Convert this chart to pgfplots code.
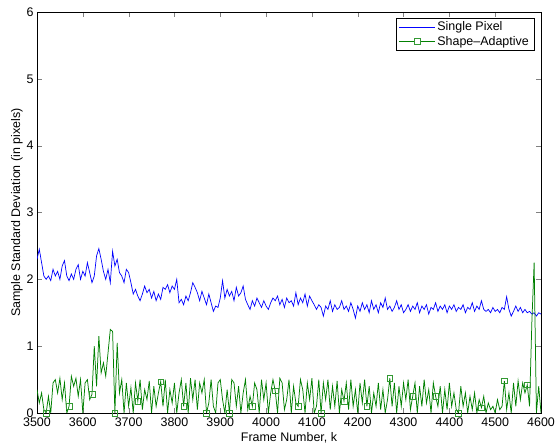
\documentclass[border=0pt]{standalone}
\usepackage{pgfplots}
\pgfplotsset{compat=1.18}
\usepackage{fontspec}
\setmainfont{Liberation Sans}
\definecolor{mblue}{RGB}{0,0,255}
\definecolor{mgreen}{RGB}{0,128,0}
\begin{document}
\begin{tikzpicture}
\useasboundingbox (-37bp,-30bp) rectangle (519bp,413bp);
\begin{axis}[
  scale only axis, width=504bp, height=401bp,
  xmin=3500, xmax=4600, ymin=0, ymax=6,
  xtick={3500,3600,...,4600}, ytick={0,1,...,6},
  /pgf/number format/assume math mode=true,
  /pgf/number format/1000 sep={},
  tick label style={font=\fontsize{12.5}{14}\selectfont},
  xticklabel style={yshift=-1bp},
  label style={font=\fontsize{12.5}{14}\selectfont},
  xlabel={Frame Number, k},
  ylabel={Sample Standard Deviation (in pixels)},
  xlabel style={yshift=1bp},
  ylabel style={yshift=-3bp},
  major tick length=5bp,
  axis line style={line width=0.6pt},
  legend cell align=left,
  legend style={at={(1,1)}, anchor=north east, xshift=-7bp, yshift=-6bp,
    font=\fontsize{12.5}{14}\selectfont,
    inner xsep=3bp, inner ysep=1.5bp, row sep=0bp},
]
\addplot[color=mblue, line width=0.7pt, mark=none,
  legend image code/.code={\fill[fill=mblue!99!white, draw=none] (0bp,-0.4bp) rectangle (36bp,0.4bp);}] coordinates {
(3500,2.30)(3505,2.45)(3510,2.25)(3515,2.05)(3520,2.00)(3525,2.05)(3530,1.98)(3535,2.15)(3540,2.05)(3545,2.12)
(3550,2.00)(3555,2.20)(3560,2.28)(3565,2.05)(3570,1.98)(3575,2.08)(3580,2.00)(3585,2.15)(3590,2.22)(3595,2.00)
(3600,2.12)(3605,2.05)(3610,2.25)(3615,2.10)(3620,1.95)(3625,2.05)(3630,2.35)(3635,2.46)(3640,2.30)(3645,2.12)
(3650,2.00)(3655,2.15)(3660,1.95)(3665,2.42)(3670,2.20)(3675,2.30)(3680,2.10)(3685,2.05)(3690,1.95)(3695,2.15)
(3700,2.10)(3705,1.95)(3710,1.78)(3715,1.85)(3720,1.75)(3725,1.68)(3730,1.78)(3735,1.90)(3740,1.80)(3745,1.85)
(3750,1.72)(3755,1.82)(3760,1.68)(3765,1.78)(3770,1.70)(3775,1.88)(3780,1.85)(3785,1.92)(3790,1.80)(3795,1.90)
(3800,1.85)(3805,2.00)(3810,1.65)(3815,1.70)(3820,1.62)(3825,1.75)(3830,1.68)(3835,1.80)(3840,1.95)(3845,1.88)
(3850,1.80)(3855,1.68)(3860,1.82)(3865,1.72)(3870,1.62)(3875,1.78)(3880,1.65)(3885,1.52)(3890,1.60)(3895,1.58)
(3900,1.72)(3905,1.98)(3910,1.72)(3915,1.85)(3920,1.75)(3925,1.82)(3930,1.68)(3935,1.88)(3940,1.75)(3945,1.80)
(3950,1.90)(3955,1.70)(3960,1.62)(3965,1.55)(3970,1.68)(3975,1.60)(3980,1.72)(3985,1.65)(3990,1.58)(3995,1.68)
(4000,1.60)(4005,1.55)(4010,1.65)(4015,1.72)(4020,1.68)(4025,1.75)(4030,1.62)(4035,1.70)(4040,1.58)(4045,1.72)
(4050,1.65)(4055,1.68)(4060,1.60)(4065,1.80)(4070,1.62)(4075,1.72)(4080,1.65)(4085,1.78)(4090,1.60)(4095,1.75)
(4100,1.68)(4105,1.62)(4110,1.55)(4115,1.62)(4120,1.58)(4125,1.45)(4130,1.60)(4135,1.55)(4140,1.68)(4145,1.52)
(4150,1.62)(4155,1.55)(4160,1.58)(4165,1.68)(4170,1.55)(4175,1.60)(4180,1.52)(4185,1.65)(4190,1.55)(4195,1.42)
(4200,1.60)(4205,1.52)(4210,1.65)(4215,1.55)(4220,1.62)(4225,1.50)(4230,1.68)(4235,1.55)(4240,1.62)(4245,1.50)
(4250,1.65)(4255,1.58)(4260,1.72)(4265,1.55)(4270,1.60)(4275,1.52)(4280,1.58)(4285,1.68)(4290,1.55)(4295,1.62)
(4300,1.50)(4305,1.55)(4310,1.62)(4315,1.52)(4320,1.60)(4325,1.55)(4330,1.65)(4335,1.50)(4340,1.60)(4345,1.55)
(4350,1.62)(4355,1.48)(4360,1.58)(4365,1.55)(4370,1.65)(4375,1.52)(4380,1.60)(4385,1.55)(4390,1.62)(4395,1.50)
(4400,1.60)(4405,1.55)(4410,1.62)(4415,1.52)(4420,1.58)(4425,1.55)(4430,1.62)(4435,1.50)(4440,1.58)(4445,1.55)
(4450,1.65)(4455,1.52)(4460,1.60)(4465,1.55)(4470,1.68)(4475,1.55)(4480,1.52)(4485,1.55)(4490,1.50)(4495,1.58)
(4500,1.52)(4505,1.55)(4510,1.50)(4515,1.58)(4520,1.55)(4525,1.74)(4530,1.55)(4535,1.45)(4540,1.52)(4545,1.60)
(4550,1.52)(4555,1.58)(4560,1.50)(4565,1.55)(4570,1.50)(4575,1.52)(4580,1.48)(4585,1.50)(4590,1.45)(4595,1.50)
(4600,1.48)
};
\addlegendentry{Single Pixel}
\addplot[color=mgreen, line width=0.75pt, mark=square, mark size=2.8bp, mark repeat=10, mark phase=5, mark options={solid, line width=0.5pt, draw=mgreen!80!white},
  legend image code/.code={\fill[fill=mgreen!99!white, draw=none] (0bp,-0.4bp) rectangle (36bp,0.4bp);\draw[draw=mgreen!80!white, fill=white, line width=0.5pt] (15.2bp,-2.8bp) rectangle (20.8bp,2.8bp);}] coordinates {
(3500,0.35)(3505,0.15)(3510,0.30)(3515,0.05)(3520,0.00)(3525,0.25)(3530,0.00)(3535,0.45)(3540,0.50)(3545,0.30)
(3550,0.52)(3555,0.20)(3560,0.45)(3565,0.00)(3570,0.10)(3575,0.55)(3580,0.40)(3585,0.52)(3590,0.25)(3595,0.50)
(3600,0.00)(3605,0.45)(3610,0.50)(3615,0.20)(3620,0.28)(3625,1.00)(3630,0.40)(3635,1.15)(3640,0.60)(3645,0.75)
(3650,0.55)(3655,0.90)(3660,1.25)(3665,1.22)(3670,0.00)(3675,1.05)(3680,0.30)(3685,0.50)(3690,0.00)(3695,0.45)
(3700,0.10)(3705,0.38)(3710,0.00)(3715,0.45)(3720,0.18)(3725,0.50)(3730,0.05)(3735,0.35)(3740,0.20)(3745,0.48)
(3750,0.00)(3755,0.40)(3760,0.10)(3765,0.30)(3770,0.47)(3775,0.10)(3780,0.50)(3785,0.00)(3790,0.35)(3795,0.15)
(3800,0.45)(3805,0.00)(3810,0.30)(3815,0.50)(3820,0.10)(3825,0.45)(3830,0.00)(3835,0.52)(3840,0.20)(3845,0.50)
(3850,0.05)(3855,0.45)(3860,0.30)(3865,0.50)(3870,0.00)(3875,0.15)(3880,0.50)(3885,0.10)(3890,0.00)(3895,0.45)
(3900,0.50)(3905,0.20)(3910,0.00)(3915,0.35)(3920,0.00)(3925,0.50)(3930,0.45)(3935,0.10)(3940,0.40)(3945,0.00)
(3950,0.30)(3955,0.50)(3960,0.05)(3965,0.25)(3970,0.10)(3975,0.45)(3980,0.35)(3985,0.00)(3990,0.50)(3995,0.20)
(4000,0.45)(4005,0.00)(4010,0.30)(4015,0.50)(4020,0.33)(4025,0.00)(4030,0.52)(4035,0.45)(4040,0.05)(4045,0.20)
(4050,0.50)(4055,0.00)(4060,0.40)(4065,0.15)(4070,0.10)(4075,0.50)(4080,0.35)(4085,0.00)(4090,0.45)(4095,0.20)
(4100,0.52)(4105,0.00)(4110,0.10)(4115,0.50)(4120,0.00)(4125,0.45)(4130,0.20)(4135,0.50)(4140,0.05)(4145,0.40)
(4150,0.10)(4155,0.48)(4160,0.00)(4165,0.35)(4170,0.18)(4175,0.45)(4180,0.05)(4185,0.50)(4190,0.10)(4195,0.35)
(4200,0.00)(4205,0.45)(4210,0.15)(4215,0.50)(4220,0.10)(4225,0.40)(4230,0.00)(4235,0.30)(4240,0.10)(4245,0.45)
(4250,0.05)(4255,0.35)(4260,0.00)(4265,0.20)(4270,0.52)(4275,0.10)(4280,0.45)(4285,0.00)(4290,0.40)(4295,0.10)
(4300,0.45)(4305,0.20)(4310,0.50)(4315,0.05)(4320,0.25)(4325,0.45)(4330,0.00)(4335,0.40)(4340,0.10)(4345,0.50)
(4350,0.15)(4355,0.35)(4360,0.00)(4365,0.45)(4370,0.25)(4375,0.10)(4380,0.40)(4385,0.00)(4390,0.35)(4395,0.05)
(4400,0.45)(4405,0.10)(4410,0.30)(4415,0.05)(4420,0.00)(4425,0.40)(4430,0.10)(4435,0.30)(4440,0.00)(4445,0.25)
(4450,0.05)(4455,0.30)(4460,0.00)(4465,0.20)(4470,0.08)(4475,0.25)(4480,0.00)(4485,0.15)(4490,0.05)(4495,0.10)
(4500,0.00)(4505,0.20)(4510,0.05)(4515,0.10)(4520,0.48)(4525,0.05)(4530,0.30)(4535,0.00)(4540,0.45)(4545,0.10)
(4550,0.48)(4555,0.20)(4560,0.45)(4565,0.30)(4570,0.42)(4575,0.10)(4580,1.35)(4585,2.25)(4590,0.00)(4595,0.40)
(4600,0.00)
};
\addlegendentry{Shape\textendash Adaptive}
\end{axis}
\end{tikzpicture}
\end{document}
